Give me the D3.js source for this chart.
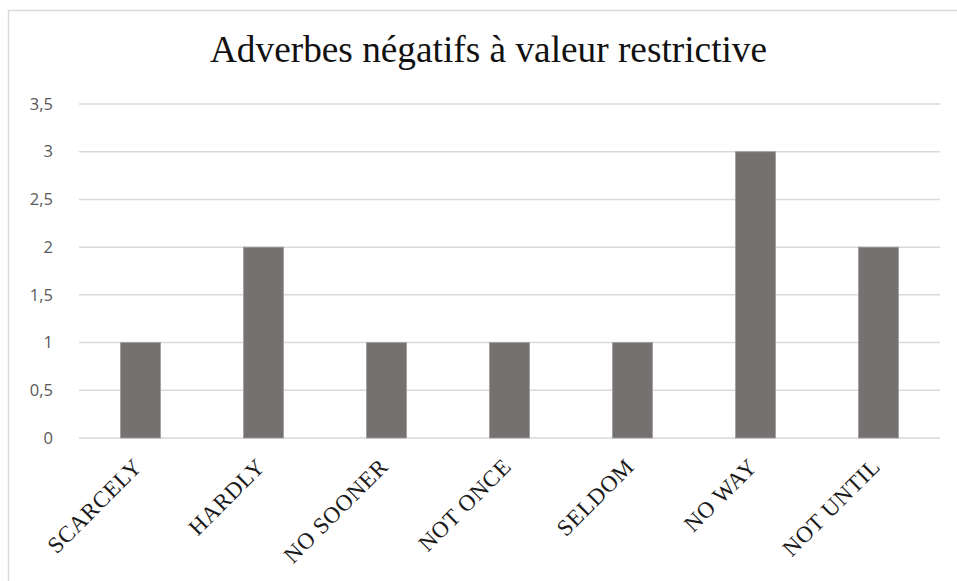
<!DOCTYPE html>
<html>
<head>
<meta charset="utf-8">
<script src="https://cdn.jsdelivr.net/npm/d3@7"></script>
<style>
  html, body { margin: 0; padding: 0; background: #fff; }
  svg { display: block; }
</style>
</head>
<body>
<svg id="chart" width="957" height="581"></svg>
<script>
const categories = ["SCARCELY", "HARDLY", "NO SOONER", "NOT ONCE", "SELDOM", "NO WAY", "NOT UNTIL"];
const values = [1, 2, 1, 1, 1, 3, 2];
const yTicks = [0, 0.5, 1, 1.5, 2, 2.5, 3, 3.5];
const titleText = "Adverbes négatifs à valeur restrictive";

const svg = d3.select("#chart");
const W = 957, H = 581;

// chart area border
svg.append("rect")
  .attr("x", 8.5).attr("y", 10.5)
  .attr("width", W + 20).attr("height", H + 20)
  .attr("fill", "#fff")
  .attr("stroke", "#d9d9d9")
  .attr("stroke-width", 1.5);

const plot = { left: 79, right: 940, top: 104, bottom: 438 };

const x = d3.scaleBand()
  .domain(categories)
  .range([plot.left, plot.right])
  .paddingInner(0.675)
  .paddingOuter(0.3375);

const y = d3.scaleLinear()
  .domain([0, 3.5])
  .range([plot.bottom, plot.top]);

// gridlines
svg.append("g")
  .selectAll("line")
  .data(yTicks)
  .join("line")
  .attr("x1", plot.left).attr("x2", plot.right)
  .attr("y1", d => y(d)).attr("y2", d => y(d))
  .attr("stroke", "#d9d9d9")
  .attr("stroke-width", 1.5);

// y axis labels
const fmt = d => String(d).replace(".", ",");
const yAxis = d3.axisLeft(y).tickValues(yTicks).tickFormat(fmt).tickSize(0).tickPadding(26);
const gy = svg.append("g").attr("transform", `translate(${plot.left},0)`).call(yAxis);
gy.select(".domain").remove();
gy.selectAll("text")
  .attr("font-family", "'Open Sans', 'Liberation Sans', sans-serif")
  .attr("font-size", 16.5)
  .attr("fill", "#595959");

// bars
svg.append("g")
  .selectAll("rect")
  .data(categories)
  .join("rect")
  .attr("x", d => x(d))
  .attr("y", (d, i) => y(values[i]))
  .attr("width", x.bandwidth())
  .attr("height", (d, i) => y(0) - y(values[i]))
  .attr("fill", "#767171")
  .attr("stroke", "#a09c9c")
  .attr("stroke-width", 0.8);

// x labels
const xAxis = d3.axisBottom(x).tickSize(0).tickPadding(0);
const gx = svg.append("g").attr("transform", `translate(0,${plot.bottom})`).call(xAxis);
gx.select(".domain").remove();
gx.selectAll(".tick text")
  .attr("font-family", "'Liberation Serif', 'Times New Roman', serif")
  .attr("font-size", 23)
  .attr("letter-spacing", 0.6)
  .attr("fill", "#1a1a1a")
  .attr("text-anchor", "end")
  .attr("dy", null)
  .attr("y", 0)
  .attr("transform", "translate(3,30) rotate(-45)");

// title
svg.append("text")
  .attr("x", 488.5)
  .attr("y", 62)
  .attr("text-anchor", "middle")
  .attr("font-family", "'Liberation Serif', 'Times New Roman', serif")
  .attr("font-size", 37.3)
  .attr("fill", "#111")
  .text(titleText);
</script>
</body>
</html>
